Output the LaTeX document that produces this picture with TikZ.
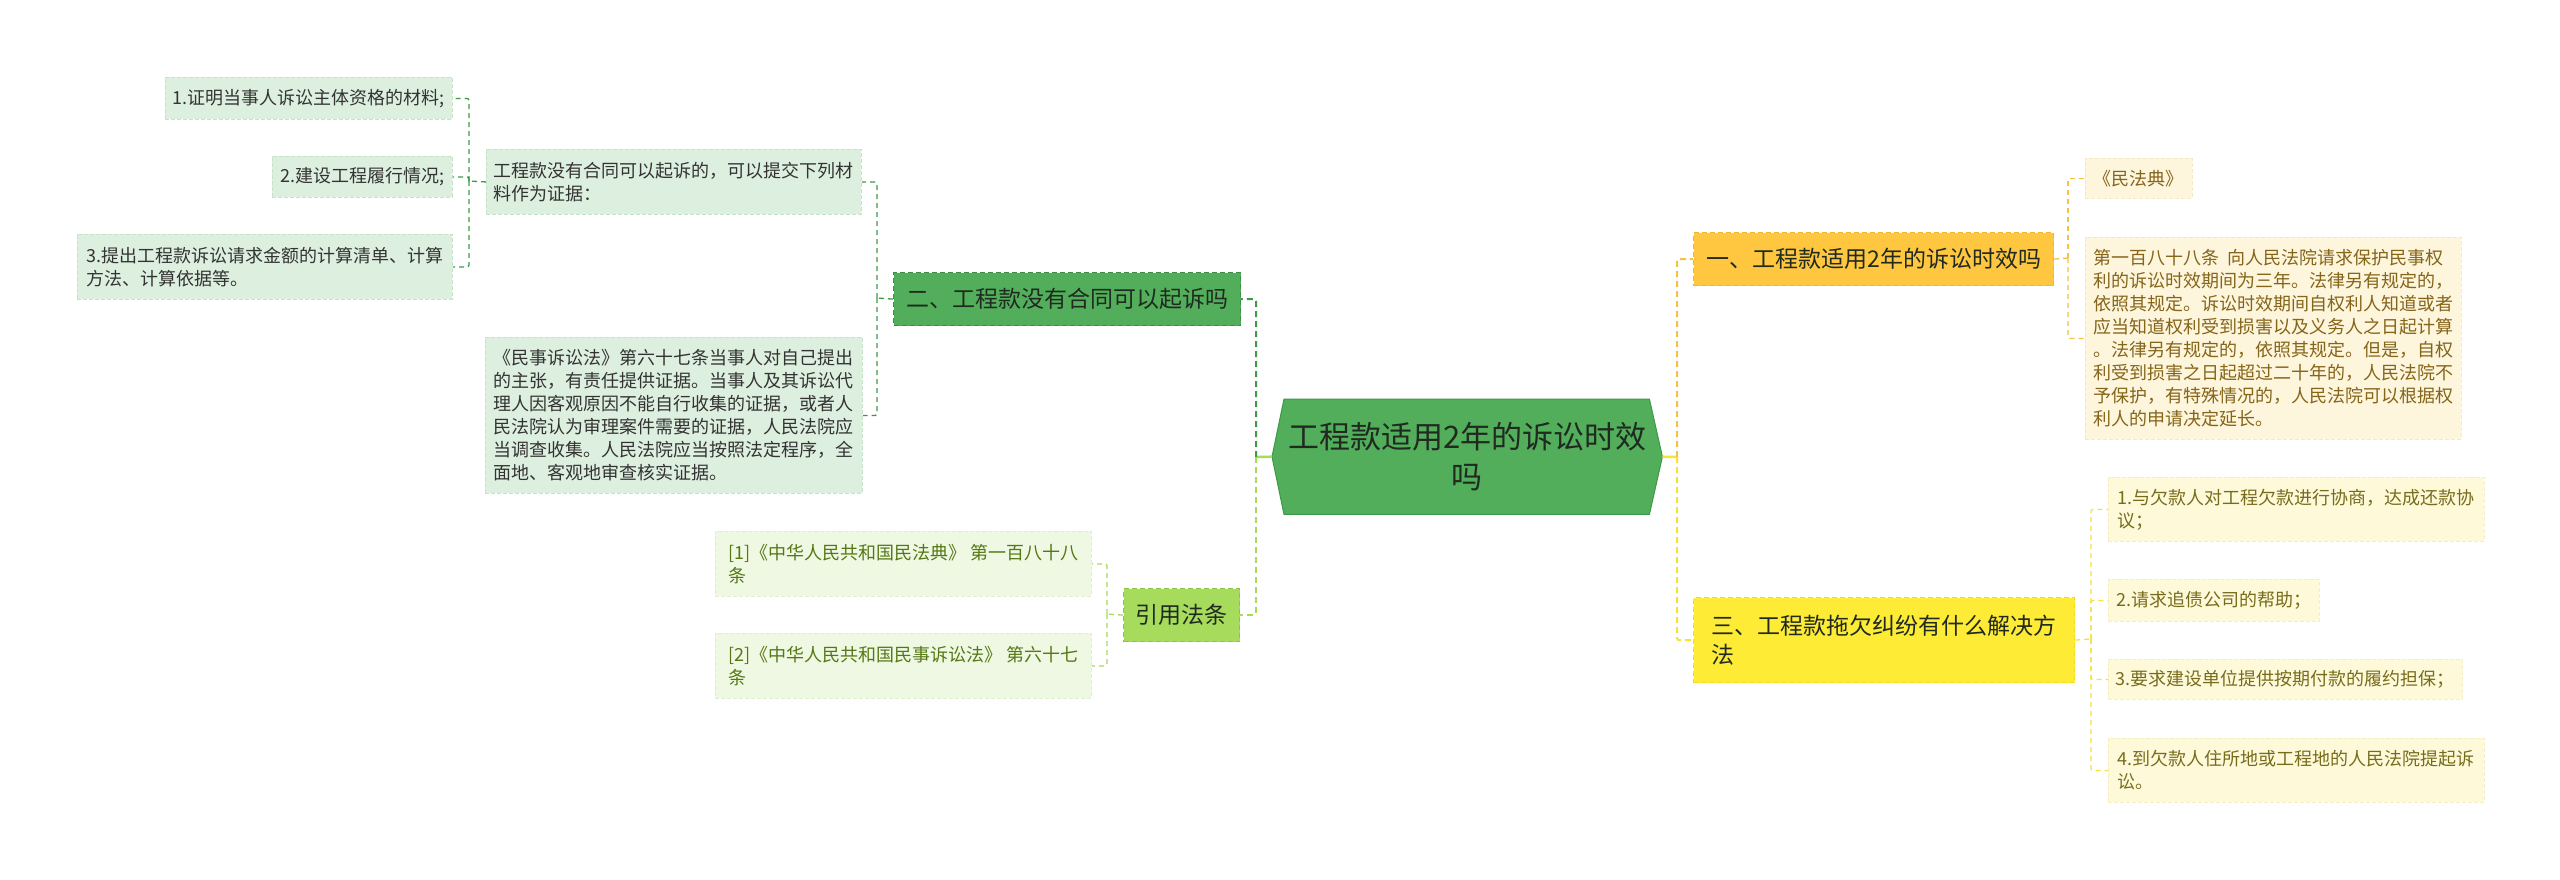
\documentclass[tikz,border=0pt]{standalone}
\usepackage{fontspec}
\setmainfont{Noto Sans CJK SC}
\usetikzlibrary{backgrounds}
\definecolor{ctrfill}{HTML}{52AE5A}
\definecolor{ctrdraw}{HTML}{3C9A46}
\definecolor{grnfill}{HTML}{52AE5A}
\definecolor{grndraw}{HTML}{3A8F42}
\definecolor{lgfill}{HTML}{DDEFDF}
\definecolor{lgdraw}{HTML}{C6E3C8}
\definecolor{lgtext}{HTML}{333333}
\definecolor{limefill}{HTML}{A6DB5C}
\definecolor{limedraw}{HTML}{8CC63F}
\definecolor{plfill}{HTML}{EFF8E2}
\definecolor{pldraw}{HTML}{E0EFCB}
\definecolor{pltext}{HTML}{557815}
\definecolor{amberfill}{HTML}{FFC73F}
\definecolor{amberdraw}{HTML}{F2B52C}
\definecolor{creamfill}{HTML}{FDF5DC}
\definecolor{creamdraw}{HTML}{F5E9C3}
\definecolor{creamtext}{HTML}{85651A}
\definecolor{yelfill}{HTML}{FDEB35}
\definecolor{yeldraw}{HTML}{F3DC22}
\definecolor{pyfill}{HTML}{FEFAD9}
\definecolor{pydraw}{HTML}{F5EEC0}
\definecolor{pytext}{HTML}{776C1C}
\definecolor{darktext}{HTML}{202A20}
\definecolor{lnDG}{HTML}{3E9A47}
\definecolor{lnLG}{HTML}{A6DB5C}
\definecolor{lnAM}{HTML}{F5C242}
\definecolor{lnYE}{HTML}{F5E23A}
\begin{document}
\begin{tikzpicture}[x=1pt,y=-1pt,
  base/.style={anchor=north west, align=left, inner sep=0pt},
  smallbox/.style={base, font=\fontsize{18}{23}\selectfont, line width=0.9pt, dash pattern=on 4pt off 2pt},
  lgbox/.style={smallbox, fill=lgfill, draw=lgdraw, text=lgtext},
  plbox/.style={smallbox, fill=plfill, draw=pldraw, text=pltext},
  crbox/.style={smallbox, fill=creamfill, draw=creamdraw, text=creamtext},
  pybox/.style={smallbox, fill=pyfill, draw=pydraw, text=pytext},
  mainbox/.style={base, font=\fontsize{23}{29}\selectfont, line width=1.2pt, dash pattern=on 5pt off 3pt, text=darktext},
  trunk/.style={line width=2pt, dash pattern=on 6pt off 4pt, rounded corners=2pt},
  twig/.style={line width=1.3pt, dash pattern=on 5pt off 4pt, rounded corners=2pt},
  stub/.style={line width=2.5pt}
]
\useasboundingbox (0,0) rectangle (2560,879);

% center node
\node[base, minimum width=390pt, minimum height=115pt, align=center,
      font=\fontsize{31}{40}\selectfont, text=darktext] (ctr) at (1272,399)
      {工程款适用2年的诉讼时效\\吗};
\begin{scope}[on background layer]
\fill[white] (0,0) rectangle (2560,879);
\filldraw[fill=ctrfill, draw=ctrdraw, line width=1pt]
  (ctr.west) -- ([xshift=12pt]ctr.north west) -- ([xshift=-13pt]ctr.north east)
  -- (ctr.east) -- ([xshift=-13pt]ctr.south east) -- ([xshift=12pt]ctr.south west) -- cycle;
\end{scope}

% left branch: 二
\node[mainbox, fill=grnfill, draw=grndraw, minimum width=347pt, minimum height=53pt] (b2) at (893,272)
  {二、工程款没有合同可以起诉吗};
\node[lgbox, minimum width=375pt, minimum height=65pt] (p1) at (486,149)
  {工程款没有合同可以起诉的，可以提交下列材\\料作为证据：};
\node[lgbox, minimum width=377pt, minimum height=156pt] (p2) at (485,337)
  {《民事诉讼法》第六十七条当事人对自己提出\\的主张，有责任提供证据。当事人及其诉讼代\\理人因客观原因不能自行收集的证据，或者人\\民法院认为审理案件需要的证据，人民法院应\\当调查收集。人民法院应当按照法定程序，全\\面地、客观地审查核实证据。};
\node[lgbox, minimum width=287pt, minimum height=42pt] (n1) at (165,77)
  {1.证明当事人诉讼主体资格的材料;};
\node[lgbox, minimum width=180pt, minimum height=41pt] (n2) at (272,156)
  {2.建设工程履行情况;};
\node[lgbox, minimum width=375pt, minimum height=65pt] (n3) at (77,234)
  {3.提出工程款诉讼请求金额的计算清单、计算\\方法、计算依据等。};

% left branch: 引用法条
\node[mainbox, fill=limefill, draw=limedraw, minimum width=116pt, minimum height=53pt] (b3) at (1123,588)
  {引用法条};
\node[plbox, minimum width=376pt, minimum height=65pt] (q1) at (715,531)
  {[1]《中华人民共和国民法典》 第一百八十八\\条};
\node[plbox, minimum width=376pt, minimum height=65pt] (q2) at (715,633)
  {[2]《中华人民共和国民事诉讼法》 第六十七\\条};

% right branch: 一
\node[mainbox, fill=amberfill, draw=amberdraw, minimum width=360pt, minimum height=53pt] (r1) at (1693,232)
  {一、工程款适用2年的诉讼时效吗};
\node[crbox, minimum width=107pt, minimum height=40pt] (m1) at (2085,158)
  {《民法典》};
\node[crbox, minimum width=376pt, minimum height=202pt] (m2) at (2085,237)
  {第一百八十八条\ \ 向人民法院请求保护民事权\\利的诉讼时效期间为三年。法律另有规定的，\\依照其规定。诉讼时效期间自权利人知道或者\\应当知道权利受到损害以及义务人之日起计算\\。法律另有规定的，依照其规定。但是，自权\\利受到损害之日起超过二十年的，人民法院不\\予保护，有特殊情况的，人民法院可以根据权\\利人的申请决定延长。};

% right branch: 三
\node[mainbox, fill=yelfill, draw=yeldraw, minimum width=381pt, minimum height=85pt] (r3) at (1693,597)
  {三、工程款拖欠纠纷有什么解决方\\法};
\node[pybox, minimum width=376pt, minimum height=64pt] (c1) at (2108,477)
  {1.与欠款人对工程欠款进行协商，达成还款协\\议；};
\node[pybox, minimum width=211pt, minimum height=42pt] (c2) at (2108,579)
  {2.请求追债公司的帮助；};
\node[pybox, minimum width=354pt, minimum height=40pt] (c3) at (2108,659)
  {3.要求建设单位提供按期付款的履约担保；};
\node[pybox, minimum width=376pt, minimum height=64pt] (c4) at (2108,738)
  {4.到欠款人住所地或工程地的人民法院提起诉\\讼。};

% junction coordinates
\coordinate (jL) at (1256,457);
\coordinate (jR) at (1677,457);
\coordinate (j2) at (877,298);
\coordinate (jp1) at (469,181);
\coordinate (j3) at (1107,614);
\coordinate (jr1) at (2068,258);
\coordinate (jr3) at (2091,639);

% connectors from center
\draw[stub, lnLG] (ctr.west) -- (jL);
\draw[stub, lnYE] (ctr.east) -- (jR);
\draw[trunk, lnDG] (jL) |- (b2.east);
\draw[trunk, lnLG] (jL) |- (b3.east);
\draw[trunk, lnAM] (jR) |- (r1.west);
\draw[trunk, lnYE] (jR) |- (r3.west);

% 二 children
\draw[twig, lnDG] (b2.west) -- (j2);
\draw[twig, lnDG] (j2) |- (p1.east);
\draw[twig, lnDG] (j2) |- (p2.east);
\draw[twig, lnDG] (p1.west) -- (jp1);
\draw[twig, lnDG] (jp1) |- (n1.east);
\draw[twig, lnDG] (jp1) |- (n2.east);
\draw[twig, lnDG] (jp1) |- (n3.east);

% 引用法条 children
\draw[twig, lnLG] (b3.west) -- (j3);
\draw[twig, lnLG] (j3) |- (q1.east);
\draw[twig, lnLG] (j3) |- (q2.east);

% 一 children
\draw[twig, lnAM] (r1.east) -- (jr1);
\draw[twig, lnAM] (jr1) |- (m1.west);
\draw[twig, lnAM] (jr1) |- (m2.west);

% 三 children
\draw[twig, lnYE] (r3.east) -- (jr3);
\draw[twig, lnYE] (jr3) |- (c1.west);
\draw[twig, lnYE] (jr3) |- (c2.west);
\draw[twig, lnYE] (jr3) |- (c3.west);
\draw[twig, lnYE] (jr3) |- (c4.west);
\end{tikzpicture}
\end{document}
